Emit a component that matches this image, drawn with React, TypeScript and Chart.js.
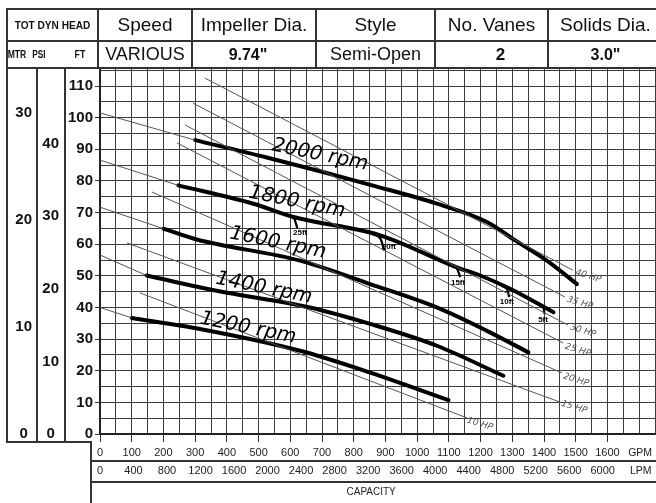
import React, { useEffect, useRef } from 'react';
import { Chart, registerables } from 'chart.js';

Chart.register(...registerables);

const FONT = '"Liberation Sans", Arial, sans-serif';

// ---------- axis tick labels ----------
const gpmLabels = [0, 100, 200, 300, 400, 500, 600, 700, 800, 900, 1000, 1100, 1200, 1300, 1400, 1500, 1600];
const lpmLabels = [0, 400, 800, 1200, 1600, 2000, 2400, 2800, 3200, 3600, 4000, 4400, 4800, 5200, 5600, 6000];
const ftLabels = [0, 10, 20, 30, 40, 50, 60, 70, 80, 90, 100, 110];
const psiLabels = [0, 10, 20, 30, 40];
const mtrLabels = [0, 10, 20, 30];

const gpmMax = 1750;
const ftMax = 115.7;
const psiMax = 50.4;
const mtrMax = 34.2;
const LPM_PER_GPM = 3.785;

// ---------- header table ----------
const headerTitles = ['Speed', 'Impeller Dia.', 'Style', 'No. Vanes', 'Solids Dia.'];
const headerValues = ['VARIOUS', '9.74"', 'Semi-Open', '2', '3.0"'];

// ---------- speed curves (GPM, FT) ----------
const speedNames = ['2000 rpm', '1800 rpm', '1600 rpm', '1400 rpm', '1200 rpm'];
const q2000 = [300, 526, 870, 1062, 1220, 1309, 1409, 1504];
const h2000 = [92.9, 87.4, 78.3, 72.8, 67.0, 61.2, 54.8, 47.4];
const q1800 = [247, 484, 610, 883, 1125, 1199, 1293, 1430];
const h1800 = [78.6, 72.8, 68.6, 62.8, 52.7, 50.1, 45.9, 38.5];
const q1600 = [200, 305, 631, 852, 1062, 1220, 1351];
const h1600 = [64.9, 61.5, 54.8, 47.4, 40.0, 32.6, 25.8];
const q1400 = [147, 368, 662, 852, 1062, 1272];
const h1400 = [50.1, 45.3, 40.0, 34.8, 27.9, 18.4];
const q1200 = [100, 315, 631, 852, 1099];
const h1200 = [36.7, 33.2, 26.3, 19.4, 10.7];

// thin extensions toward shut-off
const ext2000Q = [0, 300];
const ext2000H = [101.5, 92.9];
const ext1800Q = [0, 247];
const ext1800H = [86.6, 78.6];
const ext1600Q = [0, 200];
const ext1600H = [71.7, 64.9];
const ext1400Q = [0, 147];
const ext1400H = [56.6, 50.1];
const ext1200Q = [0, 100];
const ext1200H = [40.0, 36.7];

// ---------- horsepower lines ----------
const hpNames = ['40 HP', '35 HP', '30 HP', '25 HP', '20 HP', '15 HP', '10 HP'];
const hp40Q = [331, 1491];
const hp40H = [112.5, 51.8];
const hp35Q = [293, 1466];
const hp35H = [104.6, 43.3];
const hp30Q = [268, 1476];
const hp30H = [97.7, 34.4];
const hp25Q = [243, 1460];
const hp25H = [92.0, 28.8];
const hp20Q = [164, 1457];
const hp20H = [76.5, 19.3];
const hp15Q = [85, 1450];
const hp15H = [60.4, 10.1];
const hp10Q = [126, 1157];
const hp10H = [44.6, 5.1];
const hpLabelQ = [1539, 1513, 1523, 1507, 1501, 1495, 1198];
const hpLabelH = [49.9, 41.4, 32.6, 26.5, 17.1, 8.5, 3.2];

// ---------- NPSH marks on the 1800 rpm curve ----------
const npshNames = ['25ft', '20ft', '15ft', '10ft', '5ft'];
const npsh25Q = [586, 612, 622];
const npsh25H = [69.5, 68.2, 65.1];
const npsh20Q = [858, 885, 896];
const npsh20H = [63.2, 61.6, 58.0];
const npsh15Q = [1097, 1125, 1136];
const npsh15H = [54.0, 52.4, 49.6];
const npsh10Q = [1268, 1285, 1290];
const npsh10H = [46.8, 45.4, 43.3];
const npsh5Q = [1381, 1398, 1402];
const npsh5H = [41.3, 40.0, 37.9];
const npshLabelQ = [631, 911, 1129, 1283, 1397];
const npshLabelH = [63.5, 59.1, 47.7, 41.7, 36.0];

// label anchors for speed names
const speedLabelQ = [694, 621, 561, 517, 467];
const speedLabelH = [88.2, 73.3, 60.4, 46.1, 33.5];

function pts(q: number[], h: number[]) {
  return q.map((v, i) => ({ x: v, y: h[i] }));
}
function steps(a: number, b: number, s: number) {
  const out: number[] = [];
  for (let v = a; v <= b + 1e-9; v += s) out.push(Math.round(v * 1000) / 1000);
  return out;
}

const overlayPlugin = {
  id: 'pumpOverlay',
  afterDraw(chart: any) {
    const { ctx, chartArea: a, scales } = chart;
    const sx = scales.x, sy = scales.y, lpm = scales.lpm, psi = scales.psi, mtr = scales.mtr;
    const W = chart.width, H = chart.height;
    const panelBottom = a.bottom + 8;
    const stubX = a.left - 9;
    ctx.save();
    ctx.strokeStyle = '#333';
    ctx.lineWidth = 2;
    const seg = (x1: number, y1: number, x2: number, y2: number) => {
      ctx.beginPath(); ctx.moveTo(x1, y1); ctx.lineTo(x2, y2); ctx.stroke();
    };
    seg(mtr.left, a.top, mtr.left, panelBottom);
    seg(psi.left, a.top, psi.left, panelBottom);
    seg(sy.left, a.top, sy.left, panelBottom);
    seg(mtr.left - 1, panelBottom, stubX, panelBottom);
    seg(stubX, panelBottom - 1, stubX, H);
    seg(stubX, lpm.top, W, lpm.top);
    seg(stubX, lpm.bottom, W, lpm.bottom);

    // axis unit labels
    ctx.fillStyle = '#222';
    ctx.textAlign = 'center';
    ctx.textBaseline = 'middle';
    ctx.font = `10.5px ${FONT}`;
    ctx.fillText('GPM', sx.getPixelForValue(1703), a.bottom + 19);
    ctx.fillText('LPM', sx.getPixelForValue(1705), lpm.top + 10);
    ctx.font = `10px ${FONT}`;
    ctx.fillText('CAPACITY', sx.getPixelForValue(855), (lpm.bottom + H) / 2);

    // speed labels
    ctx.fillStyle = '#000';
    ctx.font = 'italic 20px "DejaVu Sans", Verdana, sans-serif';
    speedNames.forEach((t, i) => {
      const px = sx.getPixelForValue(speedLabelQ[i]);
      const py = sy.getPixelForValue(speedLabelH[i]);
      ctx.save(); ctx.translate(px, py); ctx.rotate(11.5 * Math.PI / 180);
      ctx.fillText(t, 0, 0); ctx.restore();
    });

    // HP labels
    ctx.fillStyle = '#555';
    ctx.font = 'italic 9px "DejaVu Sans", Verdana, sans-serif';
    hpNames.forEach((t, i) => {
      const px = sx.getPixelForValue(hpLabelQ[i]);
      const py = sy.getPixelForValue(hpLabelH[i]);
      ctx.save(); ctx.translate(px, py); ctx.rotate(17 * Math.PI / 180);
      ctx.fillText(t, 0, 0); ctx.restore();
    });

    // NPSH labels
    ctx.fillStyle = '#000';
    ctx.font = `bold 8px ${FONT}`;
    npshNames.forEach((t, i) => {
      ctx.fillText(t, sx.getPixelForValue(npshLabelQ[i]), sy.getPixelForValue(npshLabelH[i]));
    });
    ctx.restore();
  },
};

const thin = (data: any[]) => ({
  data, borderColor: '#555', borderWidth: 1, pointRadius: 0, tension: 0, fill: false,
});
const thick = (data: any[]) => ({
  data, borderColor: '#000', borderWidth: 4, pointRadius: 0, cubicInterpolationMode: 'monotone',
  borderCapStyle: 'round', fill: false,
});
const hook = (data: any[]) => ({
  data, borderColor: '#000', borderWidth: 2.2, pointRadius: 0, cubicInterpolationMode: 'monotone',
  fill: false,
});

const boldTick = { family: FONT, size: 15, weight: 'bold' as const };

export default function App() {
  const ref = useRef<HTMLCanvasElement>(null);
  useEffect(() => {
    if (!ref.current) return;
    const chart = new Chart(ref.current, {
      type: 'line',
      data: {
        datasets: [
          thin(pts(ext2000Q, ext2000H)), thin(pts(ext1800Q, ext1800H)), thin(pts(ext1600Q, ext1600H)),
          thin(pts(ext1400Q, ext1400H)), thin(pts(ext1200Q, ext1200H)),
          thin(pts(hp40Q, hp40H)), thin(pts(hp35Q, hp35H)), thin(pts(hp30Q, hp30H)), thin(pts(hp25Q, hp25H)),
          thin(pts(hp20Q, hp20H)), thin(pts(hp15Q, hp15H)), thin(pts(hp10Q, hp10H)),
          thick(pts(q2000, h2000)), thick(pts(q1800, h1800)), thick(pts(q1600, h1600)),
          thick(pts(q1400, h1400)), thick(pts(q1200, h1200)),
          hook(pts(npsh25Q, npsh25H)), hook(pts(npsh20Q, npsh20H)), hook(pts(npsh15Q, npsh15H)),
          hook(pts(npsh10Q, npsh10H)), hook(pts(npsh5Q, npsh5H)),
        ] as any,
      },
      options: {
        animation: false,
        responsive: false,
        maintainAspectRatio: false,
        devicePixelRatio: 1,
        events: [],
        layout: { padding: { left: 7, top: 68, right: 1, bottom: 21 } },
        plugins: { legend: { display: false }, tooltip: { enabled: false } },
        scales: {
          x: {
            type: 'linear', position: 'bottom', weight: 0, min: 0, max: gpmMax,
            afterBuildTicks: (s: any) => { s.ticks = steps(0, gpmMax, 50).map(v => ({ value: v })); },
            ticks: {
              autoSkip: false, maxRotation: 0, minRotation: 0, padding: 4, color: '#222',
              font: { family: FONT, size: 11 },
              callback: (v: any) => (gpmLabels.includes(v) ? String(v) : ''),
            },
            grid: {
              color: '#3d3d3d', lineWidth: 1, drawTicks: true, tickLength: 8,
              tickColor: (c: any) => (gpmLabels.includes(c.tick?.value) ? '#333' : 'rgba(0,0,0,0)'),
            },
            border: { display: true, color: '#222', width: 2 },
            afterFit: (s: any) => { s.height = 27; s.paddingLeft = 0; s.paddingRight = 0; },
          },
          lpm: {
            type: 'linear', position: 'bottom', weight: 1, min: 0, max: gpmMax * LPM_PER_GPM,
            afterBuildTicks: (s: any) => { s.ticks = lpmLabels.map(v => ({ value: v })); },
            ticks: {
              autoSkip: false, maxRotation: 0, minRotation: 0, padding: 3, color: '#222',
              font: { family: FONT, size: 11 },
              callback: (v: any) => String(v),
            },
            grid: { display: false, drawTicks: false },
            border: { display: false },
            afterFit: (s: any) => { s.height = 21; s.paddingLeft = 0; s.paddingRight = 0; },
          },
          y: {
            type: 'linear', position: 'left', weight: 0, min: 0, max: ftMax,
            afterBuildTicks: (s: any) => { s.ticks = steps(0, 115, 5).map(v => ({ value: v })); },
            ticks: {
              autoSkip: false, padding: 2, color: '#111', font: boldTick,
              callback: (v: any) => (ftLabels.includes(v) ? String(v) : ''),
            },
            grid: {
              color: '#3d3d3d', lineWidth: 1, drawTicks: true, tickLength: 5,
              tickColor: (c: any) => (ftLabels.includes(c.tick?.value) ? '#333' : 'rgba(0,0,0,0)'),
            },
            border: { display: true, color: '#222', width: 2 },
            afterFit: (s: any) => { s.width = 35; },
          },
          psi: {
            type: 'linear', position: 'left', weight: 1, min: 0, max: psiMax,
            afterBuildTicks: (s: any) => { s.ticks = psiLabels.map(v => ({ value: v })); },
            ticks: { autoSkip: false, crossAlign: 'center', padding: 6, color: '#111', font: boldTick },
            grid: { display: false, drawTicks: false },
            border: { display: false },
            afterFit: (s: any) => { s.width = 28; },
          },
          mtr: {
            type: 'linear', position: 'left', weight: 2, min: 0, max: mtrMax,
            afterBuildTicks: (s: any) => { s.ticks = mtrLabels.map(v => ({ value: v })); },
            ticks: { autoSkip: false, crossAlign: 'center', padding: 5, color: '#111', font: boldTick },
            grid: { display: false, drawTicks: false },
            border: { display: false },
            afterFit: (s: any) => { s.width = 30; },
          },
        } as any,
      },
      plugins: [overlayPlugin],
    });
    return () => chart.destroy();
  }, []);

  const cols = [7, 98, 192, 316, 435, 548, 663];
  const rows = [9, 41, 68];
  const line = '#333';
  const hLines = rows.map((y, i) => (
    <div key={'h' + i} style={{ position: 'absolute', left: cols[0] - 1, top: y - 1, width: cols[6] - cols[0] + 2, height: 2, background: line }} />
  ));
  const vLines = cols.map((x, i) => (
    <div key={'v' + i} style={{ position: 'absolute', left: x - 1, top: rows[0] - 1, width: 2, height: rows[2] - rows[0] + 2, background: line }} />
  ));
  const cell = (x0: number, x1: number, y0: number, y1: number, content: React.ReactNode, style: React.CSSProperties, key: string) => (
    <div key={key} style={{
      position: 'absolute', left: x0, top: y0, width: x1 - x0, height: y1 - y0,
      display: 'flex', alignItems: 'center', justifyContent: 'center', color: '#111',
      fontFamily: FONT, whiteSpace: 'nowrap', ...style,
    }}>{content}</div>
  );
  const valueStyles: React.CSSProperties[] = [
    { fontSize: 18 },
    { fontSize: 16, fontWeight: 'bold', paddingRight: 12, boxSizing: 'border-box' },
    { fontSize: 18 },
    { fontSize: 17, fontWeight: 'bold', paddingLeft: 18, boxSizing: 'border-box' },
    { fontSize: 16, fontWeight: 'bold' },
  ];
  const small = (text: string, cx: number, sx: number) => (
    <span key={text} style={{
      position: 'absolute', left: cx - 20, width: 40, top: 47, textAlign: 'center',
      fontFamily: FONT, fontWeight: 'bold', fontSize: 11, transform: `scaleX(${sx})`, color: '#111', lineHeight: '14px',
    }}>{text}</span>
  );

  return (
    <div style={{ position: 'absolute', left: 0, top: 0, width: 656, height: 503, overflow: 'hidden', background: '#fff' }}>
      <canvas ref={ref} width={656} height={503} style={{ position: 'absolute', left: 0, top: 0, width: 656, height: 503 }} />
      {cell(cols[0], cols[1], rows[0], rows[1], 'TOT DYN HEAD', { fontSize: 11, fontWeight: 'bold', transform: 'scaleX(0.92)' }, 'tdh')}
      {headerTitles.map((t, i) => cell(cols[i + 1], cols[i + 2], rows[0], rows[1], t, { fontSize: 19 }, 't' + i))}
      {headerValues.map((t, i) => cell(cols[i + 1], cols[i + 2], rows[1], rows[2], t, valueStyles[i], 'v' + i))}
      {small('MTR', 17, 0.78)}
      {small('PSI', 39, 0.75)}
      {small('FT', 80, 0.8)}
      {hLines}
      {vLines}
    </div>
  );
}
